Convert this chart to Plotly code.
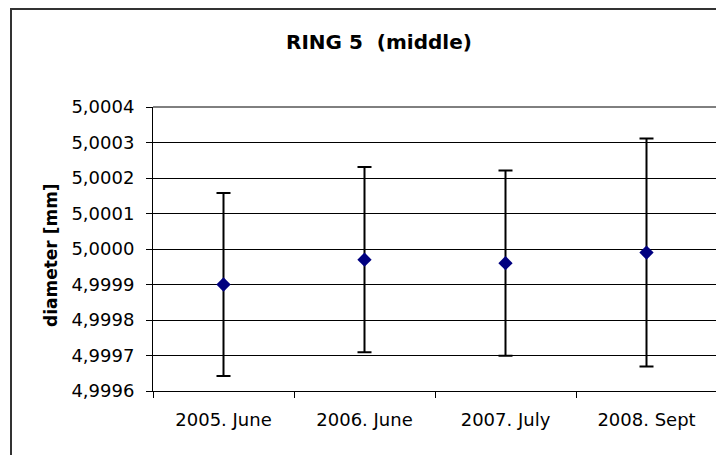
import plotly.graph_objects as go

categories = ["2005. June", "2006. June", "2007. July", "2008. Sept"]
diameter = [4.99990, 4.999970, 4.999960, 4.999990]
uncertainty = [0.000258, 0.000261, 0.000261, 0.000321]
y_ticks = [4.9996, 4.9997, 4.9998, 4.9999, 5.0000, 5.0001, 5.0002, 5.0003, 5.0004]
y_tick_labels = ["4,9996", "4,9997", "4,9998", "4,9999", "5,0000", "5,0001", "5,0002", "5,0003", "5,0004"]

# page body has an 8px margin, so figure coords = screen coords - 8
W, H = 724, 455
L, R, T, B = 145, 15, 99, 72
pw = W - L - R
ph = H - T - B

def px_x(p):
    return (p - L) / pw

def px_y(p):
    return (H - B - p) / ph

FONT = "DejaVu Sans, Arial, sans-serif"

fig = go.Figure()
fig.add_trace(go.Scatter(
    x=categories, y=diameter, mode="markers",
    marker=dict(symbol="diamond", size=11, color="#000080"),
    error_y=dict(type="data", array=uncertainty, visible=True,
                 color="black", thickness=2, width=7),
    showlegend=False, hoverinfo="x+y",
))

fig.update_layout(
    width=W, height=H,
    margin=dict(l=L, r=R, t=T, b=B),
    paper_bgcolor="white", plot_bgcolor="white",
    font=dict(family=FONT, size=18, color="black"),
    xaxis=dict(
        type="category", range=[-0.5, 3.5], tickson="boundaries",
        ticks="outside", ticklen=6, tickcolor="black",
        showline=True, linecolor="black", linewidth=1, mirror=False,
        showgrid=False, zeroline=False,
        tickfont=dict(family=FONT, size=18),
        ticklabelstandoff=12,
    ),
    yaxis=dict(
        range=[4.9996, 5.0004], tickmode="array", tickvals=y_ticks, ticktext=y_tick_labels,
        ticks="outside", ticklen=6, tickcolor="black",
        showline=True, linecolor="black", linewidth=1,
        showgrid=True, gridcolor="black", gridwidth=1,
        zeroline=False, tickfont=dict(family=FONT, size=18),
        ticklabelstandoff=8,
    ),
    shapes=[
        dict(type="line", xref="paper", yref="paper", x0=1, x1=1, y0=0, y1=1,
             line=dict(color="#808080", width=1.5)),
        dict(type="line", xref="paper", yref="paper", x0=0, x1=1, y0=1, y1=1,
             line=dict(color="black", width=1)),
        dict(type="rect", xref="paper", yref="paper",
             x0=px_x(3), x1=px_x(W + 10), y0=px_y(H + 10), y1=px_y(1),
             line=dict(color="#333333", width=2), layer="below"),
    ],
    annotations=[
        dict(text="<b>RING 5  (middle)</b>", xref="paper", yref="paper",
             x=px_x(371), y=px_y(34), showarrow=False,
             font=dict(family=FONT, size=20), xanchor="center", yanchor="middle"),
        dict(text="<b>diameter [mm]</b>", xref="paper", yref="paper",
             x=px_x(43), y=px_y(247), showarrow=False, textangle=-90,
             font=dict(family=FONT, size=17), xanchor="center", yanchor="middle"),
    ],
)

fig.write_html("out.html")
